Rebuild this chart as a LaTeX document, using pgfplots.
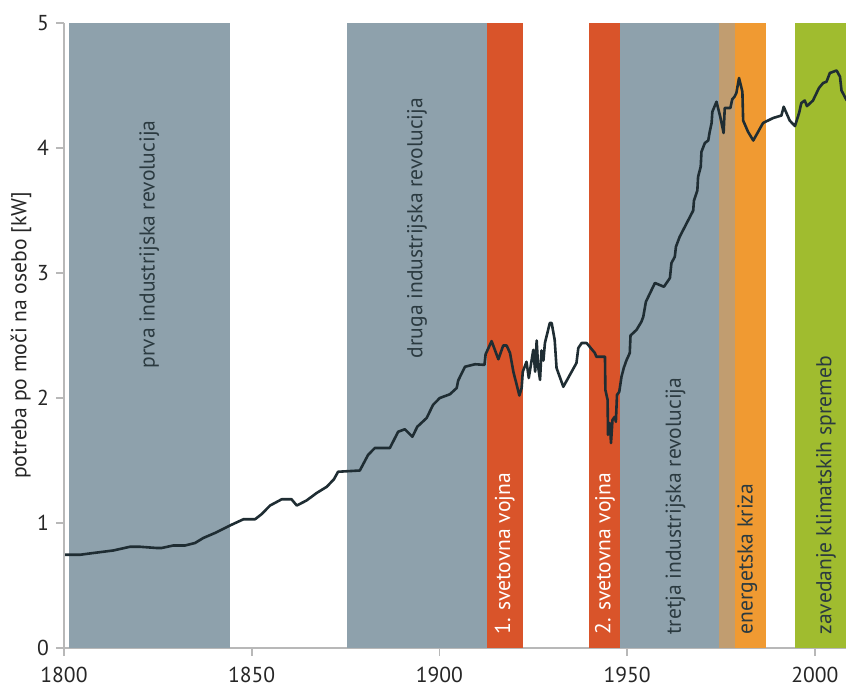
\documentclass[border=0pt]{standalone}
\usepackage{fontspec}
\setmainfont{PT Sans}
\usepackage{pgfplots}
\pgfplotsset{compat=1.18}
\usetikzlibrary{calc}

\definecolor{bandgray}{HTML}{8EA1AC}
\definecolor{bandred}{HTML}{D9542A}
\definecolor{bandtan}{HTML}{C19D70}
\definecolor{bandorange}{HTML}{F09A32}
\definecolor{bandgreen}{HTML}{A0BC2F}
\definecolor{linedark}{HTML}{1F2D33}
\definecolor{labeldark}{HTML}{2B3A40}

\begin{document}
\begin{tikzpicture}
\begin{axis}[
  scale only axis, width=391pt, height=312.5pt,
  xmin=1800, xmax=2008.3, ymin=0, ymax=5,
  axis x line=bottom, axis y line=left,
  axis line style={-, draw=black!28, line width=0.8pt},
  tick style={draw=black!28, line width=0.8pt},
  tick align=outside, major tick length=4pt,
  xtick={1800,1850,...,2000}, ytick={0,1,...,5},
  /pgf/number format/1000 sep={},
  /pgf/number format/assume math mode=true,
  tick label style={font=\fontsize{10.8}{12}\selectfont, text=black!85},
  xticklabel style={yshift=-2pt},
  ylabel={potreba po moči na osebo [kW]},
  ylabel style={font=\fontsize{10.8}{12}\selectfont, text=black!85, yshift=-4pt},
  clip=true,
]
% bands
\addplot[draw=none, fill=bandgray] coordinates {(1801.3,5) (1844.2,5)} \closedcycle;
\addplot[draw=none, fill=bandgray] coordinates {(1875.5,5) (1912.6,5)} \closedcycle;
\addplot[draw=none, fill=bandred] coordinates {(1912.6,5) (1922.2,5)} \closedcycle;
\addplot[draw=none, fill=bandred] coordinates {(1939.9,5) (1948.2,5)} \closedcycle;
\addplot[draw=none, fill=bandgray] coordinates {(1948.2,5) (1974.5,5)} \closedcycle;
\addplot[draw=none, fill=bandtan] coordinates {(1974.5,5) (1978.7,5)} \closedcycle;
\addplot[draw=none, fill=bandorange] coordinates {(1978.7,5) (1987.0,5)} \closedcycle;
\addplot[draw=none, fill=bandgreen] coordinates {(1994.7,5) (2015,5)} \closedcycle;

% band labels
\begin{scope}[every node/.style={rotate=90, inner sep=0pt, font=\fontsize{10.8}{12}\selectfont}]
\node[text=labeldark] at (axis cs:1822.7,3.23) {prva industrijska revolucija};
\node[text=labeldark] at (axis cs:1894.0,3.36) {druga industrijska revolucija};
\node[text=white, anchor=west] at (axis cs:1917.4,0.105) {1. svetovna vojna};
\node[text=white, anchor=west] at (axis cs:1944.1,0.105) {2. svetovna vojna};
\node[text=labeldark, anchor=west] at (axis cs:1962.9,0.105) {tretja industrijska revolucija};
\node[text=labeldark, anchor=west] at (axis cs:1982.0,0.105) {energetska kriza};
\node[text=labeldark, anchor=west] at (axis cs:2003.0,0.105) {zavedanje klimatskih spremeb};
\end{scope}

% power demand per person
\addplot[linedark, line width=1.3pt, line join=round, mark=none] coordinates {
(1800.3,0.746) (1804.3,0.746) (1807.8,0.76) (1813.1,0.78) (1817.6,0.81) (1820.2,0.81)
(1824.7,0.80) (1826,0.80) (1829.1,0.82) (1832.2,0.82) (1834.9,0.84) (1837.1,0.88)
(1840.2,0.92) (1844.2,0.98) (1847.8,1.03) (1850.9,1.03) (1852.6,1.07) (1854.9,1.14)
(1858,1.19) (1860.6,1.19) (1862,1.14) (1864.6,1.18) (1867.3,1.24) (1870,1.29)
(1871.9,1.35) (1873,1.41) (1878.8,1.42) (1881,1.545) (1882.8,1.60) (1886.8,1.60)
(1889,1.73) (1890.8,1.75) (1892.8,1.69) (1894.1,1.77) (1896.6,1.84) (1898.3,1.945)
(1900.1,2.00) (1902.8,2.03) (1904.6,2.08) (1905,2.14) (1906.8,2.25) (1909.5,2.27)
(1912,2.265) (1912.3,2.35) (1913.9,2.455) (1915.7,2.31) (1917,2.42) (1917.9,2.42)
(1918.8,2.36) (1919.7,2.21) (1921.3,2.02) (1921.9,2.08) (1922.2,2.21) (1923.2,2.29)
(1923.8,2.16) (1925,2.385) (1925.5,2.21) (1925.9,2.46) (1926.3,2.25) (1926.8,2.145)
(1927.2,2.38) (1927.7,2.30) (1928.1,2.44) (1929.4,2.60) (1929.9,2.60) (1930.7,2.465)
(1931.2,2.24) (1933,2.09) (1936.5,2.28) (1937,2.40) (1937.9,2.44) (1939.2,2.44)
(1941.4,2.36) (1941.8,2.33) (1944.1,2.33) (1944.2,2.065) (1944.8,1.985) (1944.9,1.705)
(1945.4,1.80) (1945.7,1.64) (1946.1,1.825) (1946.7,1.85) (1947,1.81) (1947.3,2.025)
(1947.9,2.05) (1948.5,2.17) (1949.1,2.24) (1949.8,2.30) (1950.7,2.36) (1950.9,2.50)
(1952.5,2.545) (1953.8,2.61) (1954.3,2.65) (1955,2.77) (1957.4,2.92) (1959.8,2.89)
(1961.4,2.96) (1961.8,3.08) (1962.7,3.13) (1963,3.21) (1964,3.29) (1967.6,3.50)
(1967.8,3.58) (1968.7,3.66) (1968.9,3.77) (1969.6,3.85) (1969.8,3.97) (1970.7,4.04)
(1971.6,4.06) (1972,4.13) (1972.5,4.20) (1972.7,4.29) (1973.8,4.37) (1974.8,4.25)
(1975.7,4.12) (1976,4.32) (1977.5,4.32) (1978,4.39) (1978.6,4.41) (1979.1,4.44)
(1979.8,4.56) (1980.7,4.45) (1980.9,4.22) (1982.2,4.13) (1983.6,4.06) (1984.9,4.13)
(1986.2,4.20) (1988.9,4.24) (1991.1,4.26) (1991.7,4.33) (1993.3,4.22) (1994.7,4.175)
(1995.8,4.28) (1996.4,4.36) (1997.3,4.38) (1997.9,4.335) (1999.5,4.38) (2001.1,4.48)
(2002.2,4.52) (2003.1,4.53) (2004,4.60) (2005.8,4.62) (2006.7,4.57) (2007.1,4.46)
(2008.5,4.38)
};
\coordinate (bl) at (rel axis cs:0,0);
\coordinate (tr) at (rel axis cs:1,1);
\end{axis}
\pgfresetboundingbox
\path ($(bl)+(-32pt,-19.5pt)$) rectangle ($(tr)+(0,11.5pt)$);
\end{tikzpicture}
\end{document}
